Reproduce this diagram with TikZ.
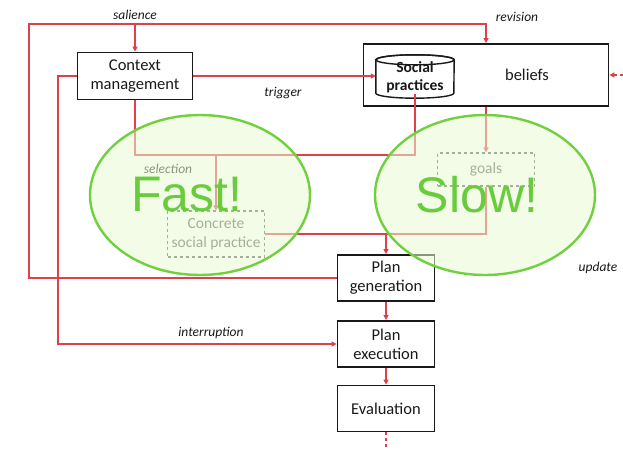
\documentclass[tikz,border=0pt]{standalone}
\usepackage{fontspec}
\setmainfont{Carlito}
\newfontfamily\arialfont{Liberation Sans}
\usetikzlibrary{arrows.meta,calc}
\definecolor{redl}{RGB}{222,64,76}
\definecolor{grnb}{RGB}{112,208,64}
\definecolor{grnf}{RGB}{232,250,210}
\definecolor{grnt}{RGB}{104,204,60}
\definecolor{boxk}{RGB}{25,25,25}
\definecolor{grayd}{RGB}{85,85,85}
\tikzset{
  conn/.style={draw=redl,line width=1.3pt},
  tip/.style={-{Triangle[length=5pt,width=5pt]}},
  box/.style={draw=boxk,line width=1.8pt,fill=white,text=boxk,font=\fontsize{16.5}{19}\selectfont,align=center,inner sep=0pt},
  inbox/.style={draw=grayd,dashed,line width=1.1pt,text=grayd,font=\fontsize{15.5}{18.5}\selectfont,align=center,inner sep=0pt},
  lbl/.style={font=\fontsize{13.5}{15}\selectfont\itshape,text=boxk},
  blob/.style={draw=grnb,line width=2.4pt,fill=grnf,fill opacity=0.55,draw opacity=1},
  big/.style={font=\arialfont\fontsize{50}{50}\selectfont,text=grnt}
}
\begin{document}
\begin{tikzpicture}[x=1pt,y=-1pt]
\useasboundingbox (0,0) rectangle (623,450);
% nodes
\node[box,minimum width=115pt,minimum height=47pt] (cm) at (135,76) {Context\\management};
\node[box,minimum width=245pt,minimum height=62pt] (bel) at (486,75) {};
\node[font=\fontsize{16.5}{19}\selectfont,text=boxk] (beltxt) at (527,75) {beliefs};
\node[minimum width=78pt,minimum height=43pt,inner sep=0pt] (sp) at (415,76.5) {};
\draw[draw=boxk,line width=1.4pt,fill=white] ([yshift=-5pt]sp.north west) -- ([yshift=5pt]sp.south west)
  arc[start angle=180,end angle=360,x radius=39pt,y radius=5pt] -- ([yshift=-5pt]sp.north east)
  arc[start angle=0,end angle=180,x radius=39pt,y radius=5pt] -- cycle;
\draw[draw=boxk,line width=1.4pt] ([yshift=-5pt]sp.north) ellipse[x radius=39pt,y radius=5pt];
\node[font=\bfseries\fontsize{15.5}{18}\selectfont,align=center,text=boxk] (sptxt) at (415,77) {Social\\practices};
\node[inbox,minimum width=97pt,minimum height=46pt] (conc) at (216,234) {Concrete\\social practice};
\node[inbox,minimum width=97pt,minimum height=33pt] (goals) at (486,169.5) {goals};
\node[box,minimum width=97pt,minimum height=46pt] (pg) at (386,278) {Plan\\generation};
\node[box,minimum width=97pt,minimum height=46pt] (pe) at (386,344) {Plan\\execution};
\node[box,minimum width=97pt,minimum height=46pt] (ev) at (386,408.5) {Evaluation};
% coordinates
\coordinate (tl) at (29,24);
\coordinate (il) at (58,200);
\coordinate (sel) at (216,155);
\coordinate (mg) at (386,234);
\coordinate (evend) at (386,450);
\coordinate (rin) at (623,75);
% connectors
\draw[conn,tip] (pg.west) -| (tl) -| (bel.north);
\draw[conn,tip] (cm.north |- tl) -- (cm.north);
\draw[conn,tip] (cm.west) -| (il) |- (pe.west);
\draw[conn,tip] (cm.east) -- (cm.east -| sp.west);
\draw[conn] (cm.south) |- (sel);
\draw[conn] ([yshift=4pt]sp.south) |- (sel);
\draw[conn,tip] (sel) -- (conc.north);
\draw[conn,tip] (bel.south) -- (goals.north);
\draw[conn] (goals.south) |- (mg);
\draw[conn] (conc.east) -- (mg);
\draw[conn,tip] (mg) -- (pg.north);
\draw[conn,tip] (pg.south) -- (pe.north);
\draw[conn,tip] (pe.south) -- (ev.north);
\draw[conn,dashed] (ev.south) -- (evend);
\draw[conn,dashed,tip] (rin) -- (bel.east);
% labels
\node[lbl] (l1) at (135,15) {salience};
\node[lbl] (l2) at (517,17) {revision};
\node[lbl] (l3) at (283,93) {trigger};
\node[lbl] (l4) at (168,169) {selection};
\node[lbl] (l5) at (211,333) {interruption};
\node[lbl] (l6) at (598,268) {update};
% ellipses
\draw[blob] (200,195) ellipse[x radius=110pt,y radius=80pt];
\draw[blob] (485,195) ellipse[x radius=110pt,y radius=80pt];
\node[big] (fast) at (187,195) {Fast!};
\node[big] (slow) at (477,195) {Slow!};
\end{tikzpicture}
\end{document}
